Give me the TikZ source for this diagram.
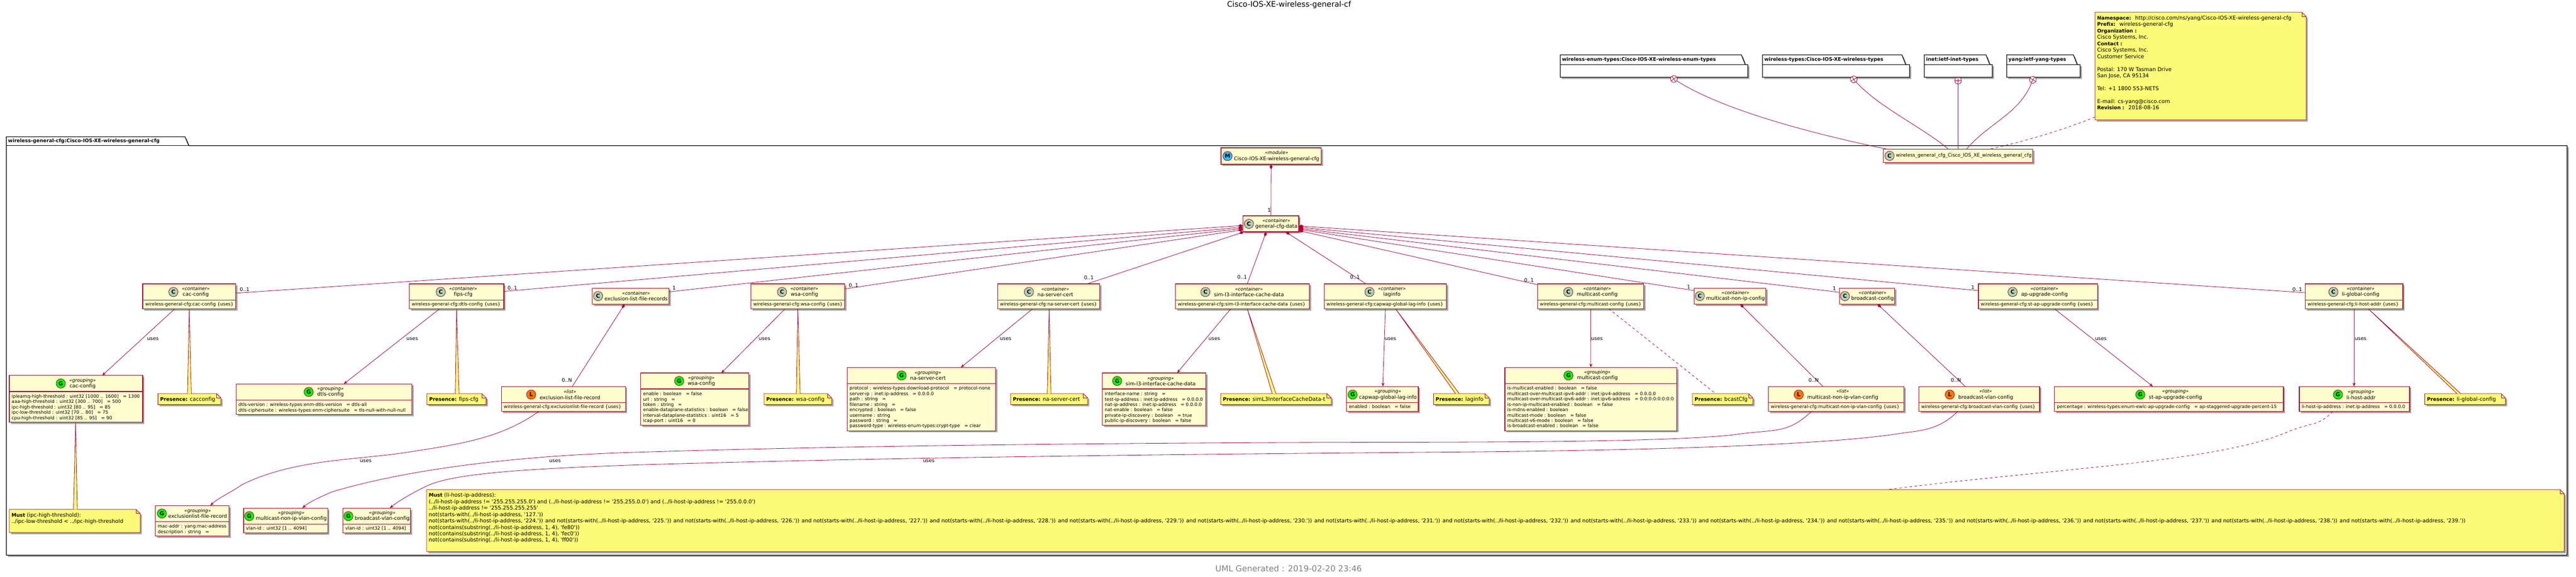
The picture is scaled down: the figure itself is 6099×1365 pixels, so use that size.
\documentclass[tikz,border=0pt]{standalone}
\usepackage{fontspec}
\setmainfont{DejaVu Sans}[Ligatures={TeXOff,NoCommon}]
\usetikzlibrary{arrows.meta,shadows}

\definecolor{umlred}{HTML}{A80036}
\definecolor{umlfill}{HTML}{FEFECE}
\definecolor{notefill}{HTML}{FBFB77}

\tikzset{
  softshadow/.style={drop shadow={shadow xshift=4pt,shadow yshift=-4pt,fill=black,opacity=.35}},
  classframe/.style={rectangle,draw=umlred,fill=umlfill,line width=1.5pt,inner sep=0pt,outer sep=0pt,anchor=north west,softshadow},
  classline/.style={draw=umlred,line width=1.5pt},
  headtext/.style={inner sep=0pt,align=center,font=\fontsize{12}{14}\selectfont},
  attrtext/.style={inner sep=0pt,anchor=north west,align=left,font=\fontsize{10.75}{12.7}\selectfont},
  badge/.style={circle,draw=umlred,line width=1pt,minimum size=22pt,inner sep=0pt,outer sep=0pt,anchor=east,font=\fontsize{13}{14}\selectfont\bfseries},
  badgeC/.style={badge,fill={rgb,255:red,173;green,209;blue,178}},
  badgeG/.style={badge,fill=green},
  badgeL/.style={badge,fill={rgb,255:red,255;green,119;blue,0}},
  badgeM/.style={badge,fill={rgb,255:red,46;green,190;blue,250}},
  noteframe/.style={rectangle,inner sep=0pt,outer sep=0pt,anchor=north west},
  notebody/.style={draw=umlred,fill=notefill,line width=1pt,softshadow},
  notetext/.style={inner sep=0pt,anchor=north west,align=left,font=\fontsize{12.55}{15.2}\selectfont},
  stemfill/.style={fill=notefill},
  stemline/.style={draw=umlred,line width=1pt},
  pkgframe/.style={rectangle,inner sep=0pt,outer sep=0pt,anchor=north west},
  pkgline/.style={draw=black,fill=white,line width=1.5pt,softshadow},
  pkgtext/.style={inner sep=0pt,anchor=west,font=\fontsize{11.6}{14}\selectfont\bfseries},
  edgetext/.style={inner sep=0pt,font=\fontsize{12}{14}\selectfont},
  compose/.style={draw=umlred,line width=1pt,{Diamond[length=12pt,width=7pt]}-},
  uses/.style={draw=umlred,line width=1pt,-{Stealth[length=9pt,width=7pt,inset=3pt]}},
  link/.style={draw=umlred,line width=1pt},
  dashlink/.style={draw=umlred,line width=1pt,dash pattern=on 6pt off 6pt},
  pluscircle/.style={circle,draw=umlred,fill=white,line width=1pt,minimum size=16pt,inner sep=0pt,outer sep=0pt},
}

\begin{document}
\begin{tikzpicture}[x=1pt,y=-1pt]

  \newcommand\badgegap{9}
  \newcommand\classbox[9]{
    \node[classframe,minimum width=#4pt,minimum height=#6pt] (#1) at (#2,#3) {};
    \draw[classline] ([shift={(0,#5)}]#1.north west) -- ([shift={(0,#5)}]#1.north east);
    \node[headtext] (#1h) at ([shift={(11+\badgegap/2,#5/2)}]#1.north)
    {{\fontsize{11}{14}\selectfont\itshape «#8»}\\#9};
    \node[badge#7] (#1b) at ([xshift=-\badgegap pt]#1h.west) {#7};
  }
  \newcommand\attrs[3]{
    \node[attrtext] (#1a) at ([shift={(5.5,#2+7)}]#1.north west) {#3};
  }
  \newcommand\notebox[6]{
    \node[noteframe,minimum width=#4pt,minimum height=#5pt] (#1) at (#2,#3) {};
    \path[notebody] (#1.north west) -- ([shift={(-10,0)}]#1.north east)
    -- ([shift={(0,10)}]#1.north east) -- (#1.south east) -- (#1.south west) -- cycle;
    \draw[stemline] ([shift={(-10,0)}]#1.north east) -- ([shift={(-10,10)}]#1.north east)
    -- ([shift={(0,10)}]#1.north east);
    \node[notetext] (#1t) at ([shift={(5,8)}]#1.north west) {#6};
  }
  \newcommand\notestem[4]{
    \path[stemfill] ([shift={(#2,0)}]#1.south) -- ([shift={(#4-4.5,0)}]#3.north)
    -- ([shift={(#4+4.5,0)}]#3.north) -- cycle;
    \draw[stemline] ([shift={(#4-4.5,0)}]#3.north) -- ([shift={(#2,0)}]#1.south)
    -- ([shift={(#4+4.5,0)}]#3.north);
  }
  \newcommand\pkgbox[7]{
    \node[pkgframe,minimum width=#4pt,minimum height=#6pt] (#1) at (#2,#3) {};
    \path[pkgline] (#1.north west) -- ++(0,-#5) -- ++(#7,0)
    -- ([shift={(#7+9,0)}]#1.north west) -- (#1.north east) -- (#1.south east)
    -- (#1.south west) -- cycle;
    \draw[line width=1.5pt] (#1.north west) -- ([shift={(#7+9,0)}]#1.north west);
  }
  \newcommand\nsw[1]{not(starts-with(../li-host-ip-address, '#1.'))}
  \newcommand\nb[1]{{\fontsize{11.7}{15.2}\selectfont\bfseries #1}}

  \useasboundingbox (0,0) rectangle (6099,1365);

  \node[inner sep=0pt,font=\fontsize{18.1}{20}\selectfont] (diagtitle) at (3052,11)
  {Cisco-IOS-XE-wireless-general-cf};
  \node[inner sep=0pt,text=gray,font=\fontsize{19.4}{22}\selectfont] (footer) at (3051,1346)
  {UML Generated : 2019-02-20 23:46};

  %% packages
  \pkgbox{mainpkg}{15}{345}{6063}{21}{969.5}{423}
  \node[pkgtext] (mainpkgt) at ([shift={(4,-10.5)}]mainpkg.north west)
  {wireless-general-cfg:Cisco-IOS-XE-wireless-general-cfg};
  \pkgbox{enumpkg}{3694}{153}{444}{23}{30}{429}
  \node[pkgtext] (enumpkgt) at ([shift={(4,-11.5)}]enumpkg.north west)
  {wireless-enum-types:Cisco-IOS-XE-wireless-enum-types};
  \pkgbox{typespkg}{4173}{153}{348}{23}{30}{330}
  \node[pkgtext] (typespkgt) at ([shift={(4,-11.5)}]typespkg.north west)
  {wireless-types:Cisco-IOS-XE-wireless-types};
  \pkgbox{inetpkg}{4556}{153}{161}{23}{30}{146}
  \node[pkgtext] (inetpkgt) at ([shift={(4,-11.5)}]inetpkg.north west)
  {inet:ietf-inet-types};
  \pkgbox{yangpkg}{4751}{153}{174}{23}{30}{158}
  \node[pkgtext] (yangpkgt) at ([shift={(4,-11.5)}]yangpkg.north west)
  {yang:ietf-yang-types};

  %% top
  \notebox{modnote}{4960}{29}{500}{255}{
    \nb{Namespace:}~ http://cisco.com/ns/yang/Cisco-IOS-XE-wireless-general-cfg\\
    \nb{Prefix:}~ wireless-general-cfg\\
    \nb{Organization :}\\
    Cisco Systems, Inc.\\
    \nb{Contact :}\\
    Cisco Systems, Inc.\\
    Customer Service\\
    ~\\
    Postal: 170 W Tasman Drive\\
    San Jose, CA 95134\\
    ~\\
    Tel: +1 1800 553-NETS\\
    ~\\
    E-mail: cs-yang@cisco.com\\
    \nb{Revision :}~ 2018-08-16}

  \node[classframe,minimum width=354pt,minimum height=32pt] (wgc) at (4459,353) {};
  \node[headtext,font=\fontsize{11.3}{14}\selectfont] (wgct) at ([shift={(13.5,0)}]wgc.center)
  {wireless\_general\_cfg\_Cisco\_IOS\_XE\_wireless\_general\_cfg};
  \node[badgeC] (wgcb) at ([xshift=-4pt]wgct.west) {C};

  \node[pluscircle,rotate=35] (cenum) at (3963,187) {};
  \node[pluscircle,rotate=30] (ctypes) at (4389,188) {};
  \node[pluscircle] (cinet) at (4636,191) {};
  \node[pluscircle,rotate=-30] (cyang) at (4813,189) {};
  \draw[link] (cenum.north) -- (cenum.south) (cenum.east) -- (cenum.west);
  \draw[link] (ctypes.north) -- (ctypes.south) (ctypes.east) -- (ctypes.west);
  \draw[link] (cinet.north) -- (cinet.south) (cinet.east) -- (cinet.west);
  \draw[link] (cyang.north) -- (cyang.south) (cyang.east) -- (cyang.west);
  \draw[link] (cenum) .. controls (4070,255) and (4260,310) .. ([shift={(-169,0)}]wgc.north);
  \draw[link] (ctypes) .. controls (4450,255) and (4550,300) .. ([shift={(-23,0)}]wgc.north);
  \draw[link] (cinet) -- (wgc);
  \draw[link] (cyang) .. controls (4780,270) and (4710,290) .. ([shift={(20,0)}]wgc.north);
  \draw[dashlink] ([shift={(0,120.5)}]modnote.west) .. controls (4880,310) and (4790,335)
  .. ([shift={(76,0)}]wgc.north);

  %% module + root
  {\renewcommand\badgegap{4}
  \classbox{mod}{2891}{350}{237}{39}{39}{M}{module}{Cisco-IOS-XE-wireless-general-cfg}
  \classbox{root}{2943}{511}{132}{38}{38}{C}{container}{general-cfg-data}
  }
  \draw[compose] (mod.south) -- (root.north);
  \node[edgetext] (lroot) at (3005,497) {1};

  %% containers
  \classbox{cac}{338}{672}{220}{38.6}{59}{C}{container}{cac-config}
  \attrs{cac}{36.6}{wireless-general-cfg:cac-config \{uses\}}
  \classbox{fips}{969}{672}{224}{38.6}{59}{C}{container}{fips-cfg}
  \attrs{fips}{36.6}{wireless-general-cfg:dtls-config \{uses\}}
  \classbox{wsa}{1778}{672}{222}{38.6}{59}{C}{container}{wsa-config}
  \attrs{wsa}{36.6}{wireless-general-cfg:wsa-config \{uses\}}
  \classbox{nac}{2362}{672}{242}{38.6}{59}{C}{container}{na-server-cert}
  \attrs{nac}{36.6}{wireless-general-cfg:na-server-cert \{uses\}}
  \classbox{sim}{2783}{672}{317}{38.6}{59}{C}{container}{sim-l3-interface-cache-data}
  \attrs{sim}{36.6}{wireless-general-cfg:sim-l3-interface-cache-data \{uses\}}
  \classbox{lag}{3135}{672}{290}{38.6}{59}{C}{container}{laginfo}
  \attrs{lag}{36.6}{wireless-general-cfg:capwap-global-lag-info \{uses\}}
  \classbox{mcc}{3640}{672}{252}{38.6}{59}{C}{container}{multicast-config}
  \attrs{mcc}{36.6}{wireless-general-cfg:multicast-config \{uses\}}
  \classbox{apu}{4684}{672}{282}{38.6}{59}{C}{container}{ap-upgrade-config}
  \attrs{apu}{36.6}{wireless-general-cfg:st-ap-upgrade-config \{uses\}}
  \classbox{lig}{5458}{672}{231}{38.6}{59}{C}{container}{li-global-config}
  \attrs{lig}{36.6}{wireless-general-cfg:li-host-addr \{uses\}}
  {\renewcommand\badgegap{4}
  \classbox{excl}{1402}{682}{182}{38}{38}{C}{container}{exclusion-list-file-records}
  \classbox{mni}{4011}{682}{170}{38}{38}{C}{container}{multicast-non-ip-config}
  \classbox{bcc}{4355}{682}{131}{38}{38}{C}{container}{broadcast-config}
  }

  %% root -> containers
  \draw[compose] ([shift={(0,4)}]root.west) -- ([shift={(0,-7.5)}]cac.east); %% 0..1
  \draw[compose] ([shift={(0,8)}]root.west) -- ([shift={(0,-11.5)}]fips.east);
  \draw[compose] ([shift={(0,11)}]root.west) -- ([shift={(0,-10)}]excl.east);
  \draw[compose] ([shift={(0,14)}]root.west) -- ([shift={(0,-17.5)}]wsa.east);
  \draw[compose] ([shift={(-64,0)}]root.south) -- ([shift={(91,0)}]nac.north);
  \draw[compose] ([shift={(-11,0)}]root.south) -- ([shift={(11.5,0)}]sim.north);
  \draw[compose] ([shift={(35,0)}]root.south) -- ([shift={(-46,0)}]lag.north);
  \draw[compose] ([shift={(0,16)}]root.east) -- ([shift={(0,2)}]mcc.north west);
  \draw[compose] ([shift={(0,13)}]root.east) -- ([shift={(0,-13)}]mni.west);
  \draw[compose] ([shift={(0,11)}]root.east) -- ([shift={(0,-9)}]bcc.west);
  \draw[compose] ([shift={(0,8)}]root.east) -- ([shift={(0,-13.5)}]apu.west);
  \draw[compose] ([shift={(0,5)}]root.east) -- ([shift={(0,-8.5)}]lig.west);

  \node[edgetext] (lcac) at (579,686) {0..1};
  \node[edgetext] (lfips) at (1213,682) {0..1};
  \node[edgetext] (lexcl) at (1596,682) {1};
  \node[edgetext] (lwsa) at (2021,676) {0..1};
  \node[edgetext] (lnac) at (2578,657) {0..1};
  \node[edgetext] (lsim) at (2941,656) {0..1};
  \node[edgetext] (llag) at (3208,656) {0..1};
  \node[edgetext] (lmcc) at (3620,664) {0..1};
  \node[edgetext] (lmni) at (3998,679) {1};
  \node[edgetext] (lbcc) at (4343,683) {1};
  \node[edgetext] (lapu) at (4671,680) {1};
  \node[edgetext] (llig) at (5439,686) {0..1};

  %% groupings and lists
  \classbox{cacg}{22}{889}{316}{38}{111}{G}{grouping}{cac-config}
  \attrs{cacg}{38}{iplearnq-high-threshold : uint32 [1000 .. 1600]~~ = 1300\\
    aaa-high-threshold : uint32 [300 .. 700]~~ = 500\\
    ipc-high-threshold : uint32 [80 .. 95]~~ = 85\\
    ipc-low-threshold : uint32 [70 .. 80]~~ = 75\\
    cpu-high-threshold : uint32 [85 .. 95]~~ = 90}
  \classbox{dtlg}{559}{909}{416}{38}{72}{G}{grouping}{dtls-config}
  \attrs{dtlg}{38}{dtls-version : wireless-types:enm-dtls-version~~ = dtls-all\\
    dtls-ciphersuite : wireless-types:enm-ciphersuite~~ = tls-null-with-null-null}
  \classbox{exrec}{1187}{915}{294}{38.6}{59}{L}{list}{exclusion-list-file-record}
  \attrs{exrec}{36.6}{wireless-general-cfg:exclusionlist-file-record \{uses\}}
  \classbox{wsag}{1517}{883}{256}{38}{124}{G}{grouping}{wsa-config}
  \attrs{wsag}{38}{enable : boolean~~ = false\\
    url : string~~ =\\
    token : string~~ =\\
    enable-dataplane-statistics : boolean~~ = false\\
    interval-dataplane-statistics : uint16~~ = 5\\
    icap-port : uint16~~ = 0}
  \classbox{nacg}{2006}{870}{351}{38}{150}{G}{grouping}{na-server-cert}
  \attrs{nacg}{38}{protocol : wireless-types:download-protocol~~ = protocol-none\\
    server-ip : inet:ip-address~~ = 0.0.0.0\\
    path : string~~ =\\
    filename : string~~ =\\
    encrypted : boolean~~ = false\\
    username : string\\
    password : string~~ =\\
    password-type : wireless-enum-types:crypt-type~~ = clear}
  \classbox{simg}{2610}{883}{245}{38}{124}{G}{grouping}{sim-l3-interface-cache-data}
  \attrs{simg}{38}{interface-name : string~~ =\\
    test-ip-address : inet:ip-address~~ = 0.0.0.0\\
    nat-ip-address : inet:ip-address~~ = 0.0.0.0\\
    nat-enable : boolean~~ = false\\
    private-ip-discovery : boolean~~ = true\\
    public-ip-discovery : boolean~~ = false}
  \classbox{mccg}{3563}{870}{407}{38}{150}{G}{grouping}{multicast-config}
  \attrs{mccg}{38}{is-multicast-enabled : boolean~~ = false\\
    multicast-over-multicast-ipv4-addr : inet:ipv4-address~~ = 0.0.0.0\\
    multicast-over-multicast-ipv6-addr : inet:ipv6-address~~ = 0:0:0:0:0:0:0:0\\
    is-non-ip-multicast-enabled : boolean~~ = false\\
    is-mdns-enabled : boolean\\
    multicast-mode : boolean~~ = false\\
    multicast-v6-mode : boolean~~ = false\\
    is-broadcast-enabled : boolean~~ = false}
  \classbox{mnvl}{4187}{915}{321}{38.6}{59}{L}{list}{multicast-non-ip-vlan-config}
  \attrs{mnvl}{36.6}{wireless-general-cfg:multicast-non-ip-vlan-config \{uses\}}
  \classbox{bcvl}{4543}{915}{286}{38.6}{59}{L}{list}{broadcast-vlan-config}
  \attrs{bcvl}{36.6}{wireless-general-cfg:broadcast-vlan-config \{uses\}}
  \classbox{stag}{4864}{915}{542}{38.6}{59}{G}{grouping}{st-ap-upgrade-config}
  \attrs{stag}{36.6}{percentage : wireless-types:enum-ewlc-ap-upgrade-config~~ = ap-staggered-upgrade-percent-15}
  \classbox{lihg}{5444}{915}{261}{38.6}{59}{G}{grouping}{li-host-addr}
  \attrs{lihg}{36.6}{li-host-ip-address : inet:ip-address~~ = 0.0.0.0}
  {\renewcommand\badgegap{4}
  \classbox{lagg}{3188}{915}{170}{38.6}{59}{G}{grouping}{capwap-global-lag-info}
  \attrs{lagg}{36.6}{enabled : boolean~~ = false}
  \classbox{exgr}{368}{1197}{174}{37.6}{72}{G}{grouping}{exclusionlist-file-record}
  \attrs{exgr}{37.6}{mac-addr : yang:mac-address\\
    description : string~~ =}
  \classbox{mngr}{577}{1203}{199}{38}{59}{G}{grouping}{multicast-non-ip-vlan-config}
  \attrs{mngr}{36}{vlan-id : uint32 [1 .. 4094]}
  \classbox{bcgr}{812}{1203}{160}{38}{59}{G}{grouping}{broadcast-vlan-config}
  \attrs{bcgr}{36}{vlan-id : uint32 [1 .. 4094]}
  }

  %% uses
  \draw[uses] ([shift={(-34,0)}]cac.south) -- ([shift={(62,0)}]cacg.north);
  \draw[uses] ([shift={(-40,0)}]fips.south) -- ([shift={(47,0)}]dtlg.north);
  \draw[uses] ([shift={(-30,0)}]wsa.south) -- ([shift={(63,0)}]wsag.north);
  \draw[uses] ([shift={(-38,0)}]nac.south) -- ([shift={(93.5,0)}]nacg.north);
  \draw[uses] ([shift={(-27.5,0)}]sim.south) -- ([shift={(54.5,0)}]simg.north);
  \draw[uses] (lag.south) -- ([shift={(1,0)}]lagg.north);
  \draw[uses] (mcc.south) -- (mccg.north);
  \draw[uses] ([shift={(39,0)}]apu.south) -- ([shift={(-38,0)}]stag.north);
  \draw[uses] (lig.south) -- ([shift={(-1,0)}]lihg.north);
  \node[edgetext] (ucac) at (362,802) {uses};
  \node[edgetext] (ufips) at (976,802) {uses};
  \node[edgetext] (uwsa) at (1810,802) {uses};
  \node[edgetext] (unac) at (2381,802) {uses};
  \node[edgetext] (usim) at (2875,802) {uses};
  \node[edgetext] (ulag) at (3292,802) {uses};
  \node[edgetext] (umcc) at (3781,802) {uses};
  \node[edgetext] (uapu) at (4974,802) {uses};
  \node[edgetext] (ulig) at (5589,802) {uses};

  %% lists below containers
  \draw[compose] ([shift={(-14,0)}]excl.south) -- ([shift={(21,0)}]exrec.north);
  \draw[compose] ([shift={(24,0)}]mni.south) -- ([shift={(-31.5,0)}]mnvl.north);
  \draw[compose] ([shift={(24.5,0)}]bcc.south) -- ([shift={(-33,0)}]bcvl.north);
  \node[edgetext] (lexrec) at (1342,900) {0..N};
  \node[edgetext] (lmnvl) at (4294,900) {0..N};
  \node[edgetext] (lbcvl) at (4631,900) {0..N};

  %% notes
  \notebox{ncac}{374}{932}{149}{26}{\nb{Presence:} cacconfig}
  \notebox{nfip}{1011}{932}{140}{26}{\nb{Presence:} fips-cfg}
  \notebox{nwsa}{1809}{932}{160}{26}{\nb{Presence:} wsa-config}
  \notebox{nnac}{2393}{932}{182}{26}{\nb{Presence:} na-server-cert}
  \notebox{nsim}{2890}{932}{262}{26}{\nb{Presence:} simL3InterfaceCacheData-t}
  \notebox{nlag}{3394}{932}{132}{26}{\nb{Presence:} laginfo}
  \notebox{nbc}{4007}{932}{143}{26}{\nb{Presence:} bcastCfg}
  \notebox{nlig}{5741}{932}{191}{26}{\nb{Presence:} li-global-config}
  \notebox{nipc}{22}{1206}{310}{55}{\nb{Must} (ipc-high-threshold):\\
    ../ipc-low-threshold < ../ipc-high-threshold}
  \notebox{nbig}{1010}{1159}{5061}{147}{\nb{Must} (li-host-ip-address):\\
    (../li-host-ip-address != '255.255.255.0') and (../li-host-ip-address != '255.255.0.0') and (../li-host-ip-address != '255.0.0.0')\\
    ../li-host-ip-address != '255.255.255.255'\\
    not(starts-with(../li-host-ip-address, '127.'))\\
    \nsw{224} and \nsw{225} and \nsw{226} and \nsw{227} and \nsw{228} and \nsw{229} and \nsw{230} and \nsw{231} and \nsw{232} and \nsw{233} and \nsw{234} and \nsw{235} and \nsw{236} and \nsw{237} and \nsw{238} and \nsw{239}\\
    not(contains(substring(../li-host-ip-address, 1, 4), 'fe80'))\\
    not(contains(substring(../li-host-ip-address, 1, 4), 'fec0'))\\
    not(contains(substring(../li-host-ip-address, 1, 4), 'ff00'))}

  \notestem{cac}{0}{ncac}{0}
  \notestem{fips}{0}{nfip}{1.5}
  \notestem{wsa}{0}{nwsa}{1}
  \notestem{nac}{1}{nnac}{0}
  \notestem{sim}{11.5}{nsim}{-4.5}
  \notestem{lag}{24}{nlag}{-9.5}
  \notestem{lig}{33.5}{nlig}{-15}
  \notestem{cacg}{-1}{nipc}{1.5}
  \draw[dashlink] ([shift={(43,0)}]mcc.south) -- ([shift={(-16.5,0)}]nbc.north);

  %% curved links along the bottom
  \draw[uses] ([shift={(-58,0)}]exrec.south) .. controls (1190,1035) and (1100,1050) .. (976,1069)
  .. controls (850,1090) and (700,1085) .. (574,1147)
  .. controls (540,1170) and (515,1180) .. ([shift={(43,0)}]exgr.north);
  \draw[uses] ([shift={(-58.5,0)}]mnvl.south) .. controls (4230,1030) and (4200,1015) .. (4100,1030)
  .. controls (3900,1050) and (3400,1046) .. (3000,1048)
  .. controls (2600,1050) and (2000,1055) .. (1500,1071)
  .. controls (1200,1080) and (950,1115) .. (785,1165)
  .. controls (755,1178) and (730,1190) .. ([shift={(39.5,0)}]mngr.north);
  \draw[uses] ([shift={(-51,0)}]bcvl.south) .. controls (4590,1020) and (4540,1020) .. (4500,1026)
  .. controls (4350,1050) and (4000,1065) .. (3478,1070)
  .. controls (3000,1074) and (2200,1080) .. (1500,1101)
  .. controls (1250,1110) and (1080,1120) .. (1014,1149)
  .. controls (980,1165) and (945,1185) .. ([shift={(31,0)}]bcgr.north);
  \draw[dashlink] ([shift={(-51.5,0)}]lihg.south) .. controls (5490,1010) and (5470,1000) .. (5418,1022)
  .. controls (5250,1095) and (4850,1110) .. ([shift={(929.5,0)}]nbig.north);
  \node[edgetext] (uexgr) at (866,1091) {uses};
  \node[edgetext] (umngr) at (1314,1091) {uses};
  \node[edgetext] (ubcgr) at (2199,1091) {uses};

\end{tikzpicture}
\end{document}
